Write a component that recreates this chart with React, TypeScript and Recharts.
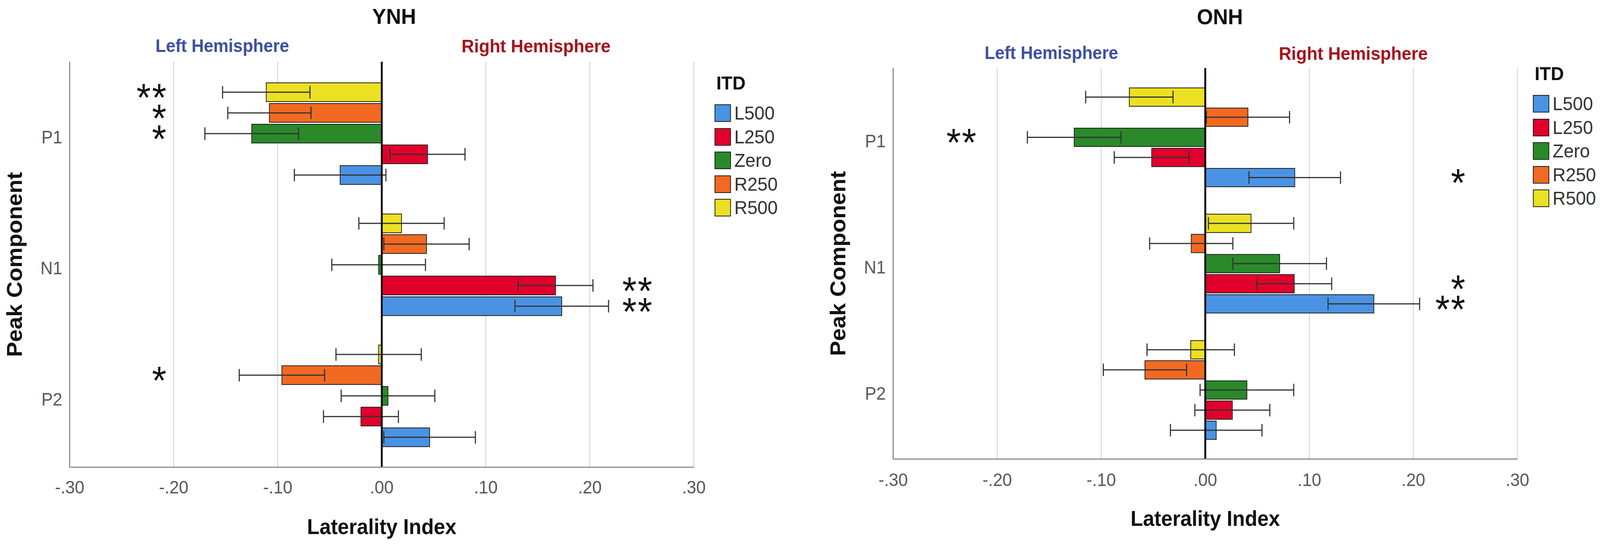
import { BarChart, Bar, XAxis, YAxis, CartesianGrid, ReferenceLine, ErrorBar, LabelList } from 'recharts';

const categories = ['P1', 'N1', 'P2'];
const seriesKeys = ['L500', 'L250', 'Zero', 'R250', 'R500'];
const seriesColors = ['#4A93E4', '#E1002B', '#2A8A2A', '#F26A22', '#EBE022'];
const xTicks = [-0.3, -0.2, -0.1, 0, 0.1, 0.2, 0.3];

// YNH means per ITD, ordered P1, N1, P2
const ynhL500 = [-0.04, 0.173, 0.046];
const ynhL250 = [0.044, 0.167, -0.02];
const ynhZero = [-0.125, -0.003, 0.006];
const ynhR250 = [-0.108, 0.043, -0.096];
const ynhR500 = [-0.111, 0.019, -0.003];
// YNH standard errors
const ynhL500Err = [0.044, 0.045, 0.044];
const ynhL250Err = [0.036, 0.036, 0.036];
const ynhZeroErr = [0.045, 0.045, 0.045];
const ynhR250Err = [0.04, 0.041, 0.041];
const ynhR500Err = [0.042, 0.041, 0.041];
// YNH significance marks
const ynhL500Sig = ['', '**', ''];
const ynhL250Sig = ['', '**', ''];
const ynhZeroSig = ['*', '', ''];
const ynhR250Sig = ['*', '', '*'];
const ynhR500Sig = ['**', '', ''];

// ONH means
const onhL500 = [0.086, 0.162, 0.0105];
const onhL250 = [-0.0515, 0.0855, 0.026];
const onhZero = [-0.126, 0.0715, 0.04];
const onhR250 = [0.041, -0.0135, -0.058];
const onhR500 = [-0.073, 0.044, -0.014];
// ONH standard errors
const onhL500Err = [0.044, 0.044, 0.044];
const onhL250Err = [0.036, 0.036, 0.036];
const onhZeroErr = [0.045, 0.045, 0.045];
const onhR250Err = [0.04, 0.04, 0.04];
const onhR500Err = [0.042, 0.041, 0.042];
// ONH significance marks
const onhL500Sig = ['*', '**', ''];
const onhL250Sig = ['', '*', ''];
const onhZeroSig = ['**', '', ''];
const onhR250Sig = ['', '', ''];
const onhR500Sig = ['', '', ''];

const FONT = '"Liberation Sans", Arial, sans-serif';
const PAGE_W = 4319;
const PAGE_H = 1395;

function buildRows(vals: number[][], errs: number[][], sigs: string[][]) {
  return categories.map((name, i) => {
    const row: any = { name };
    seriesKeys.forEach((k, s) => {
      row[k] = vals[s][i];
      row[k + '_err'] = errs[s][i];
      row[k + '_sig'] = sigs[s][i];
    });
    return row;
  });
}

const ynhRows = buildRows(
  [ynhL500, ynhL250, ynhZero, ynhR250, ynhR500],
  [ynhL500Err, ynhL250Err, ynhZeroErr, ynhR250Err, ynhR500Err],
  [ynhL500Sig, ynhL250Sig, ynhZeroSig, ynhR250Sig, ynhR500Sig]
);
const onhRows = buildRows(
  [onhL500, onhL250, onhZero, onhR250, onhR500],
  [onhL500Err, onhL250Err, onhZeroErr, onhR250Err, onhR500Err],
  [onhL500Sig, onhL250Sig, onhZeroSig, onhR250Sig, onhR500Sig]
);

const fmt = (v: number) => {
  const s = Math.abs(v).toFixed(2).replace(/^0/, '');
  return v < -1e-9 ? '-' + s : s;
};

// stars sit in a fixed column left or right of zero, given in axis units
const starContent = (rows: any[], key: string, leftAt: number, rightAt: number) => (p: any) => {
  const value = p.value;
  if (!value) return null;
  const v = rows[p.index][key];
  const vb = p.viewBox ?? p;
  const x0 = Number(typeof p.x === 'number' ? p.x : vb.x);
  const w = Number(typeof p.width === 'number' ? p.width : vb.width);
  const y0 = Number(typeof p.y === 'number' ? p.y : vb.y);
  const h = Number(typeof p.height === 'number' ? p.height : vb.height);
  const zero = v < 0 ? Math.max(x0, x0 + w) : Math.min(x0, x0 + w);
  const k = Math.abs(w) / Math.abs(v);
  const sx = zero + (v < 0 ? leftAt : rightAt) * k;
  const cy = y0 + Math.abs(h) / 2;
  return (
    <text x={sx} y={cy + 48} textAnchor="end" fontFamily={FONT} fontSize={100} letterSpacing={3} fill="#111">
      {value}
    </text>
  );
};

const CatTick = (p: any) => (
  <text x={p.x} y={p.y} dy={25} textAnchor="end" fill="#595959" fontFamily={FONT} fontSize={46}>
    {p.payload.value}
  </text>
);

type PanelProps = {
  rows: any[];
  left: number;
  width: number;
  top: number;
  right: number;
  bottom: number;
  barSize: number;
  barGap: number;
  tickMargin: number;
  starLeft: number;
  starRight: number;
};

function Panel(props: PanelProps) {
  const { rows, left, width, top, right, bottom, barSize, barGap, tickMargin, starLeft, starRight } = props;
  const drawOrder = [...seriesKeys].reverse();
  return (
    <div style={{ position: 'absolute', left, top: 0 }}>
      <BarChart
        width={width}
        height={PAGE_H}
        data={rows}
        layout="vertical"
        margin={{ top, right, left: 0, bottom }}
        barSize={barSize}
        barGap={barGap}
      >
        <CartesianGrid horizontal={false} stroke="#cccccc" strokeWidth={2} />
        <XAxis
          type="number"
          domain={[-0.3, 0.3]}
          ticks={xTicks}
          tickFormatter={fmt}
          height={150}
          tickLine={false}
          tickSize={0}
          tickMargin={tickMargin}
          axisLine={{ stroke: '#8a8a8a', strokeWidth: 3 }}
          tick={{ fill: '#595959', fontSize: 46, fontFamily: FONT }}
          label={{
            content: ({ viewBox }: any) => (
              <text
                x={viewBox.x + viewBox.width / 2}
                y={viewBox.y + 171}
                textAnchor="middle"
                fontFamily={FONT}
                fontWeight="bold"
                fontSize={55}
                fill="#111"
              >
                Laterality Index
              </text>
            ),
          }}
        />
        <YAxis
          type="category"
          dataKey="name"
          width={188}
          padding={{ top: 16, bottom: 15 }}
          tickLine={false}
          tickSize={0}
          tickMargin={20}
          axisLine={{ stroke: '#8a8a8a', strokeWidth: 3 }}
          tick={<CatTick />}
          label={{
            content: ({ viewBox }: any) => {
              const cx = viewBox.x + 59;
              const cy = viewBox.y + viewBox.height / 2;
              return (
                <text
                  x={cx}
                  y={cy}
                  transform={`rotate(-90, ${cx}, ${cy})`}
                  textAnchor="middle"
                  fontFamily={FONT}
                  fontWeight="bold"
                  fontSize={58}
                  fill="#111"
                >
                  Peak Component
                </text>
              );
            },
          }}
        />
        {drawOrder.map((k) => (
          <Bar
            key={k}
            dataKey={k}
            fill={seriesColors[seriesKeys.indexOf(k)]}
            stroke="#1e1e1e"
            strokeWidth={2}
            isAnimationActive={false}
          >
            <ErrorBar dataKey={k + '_err'} direction="x" width={16} stroke="#333" strokeWidth={3} />
            <LabelList dataKey={k + '_sig'} content={starContent(rows, k, starLeft, starRight)} />
          </Bar>
        ))}
        <ReferenceLine x={0} stroke="#000" strokeWidth={5} />
      </BarChart>
    </div>
  );
}

function Legend({ left, top }: { left: number; top: number }) {
  return (
    <div style={{ position: 'absolute', left, top, fontFamily: FONT }}>
      <div
        style={{
          position: 'absolute',
          left: 44,
          top: -55,
          transform: 'translate(-50%, -50%)',
          fontWeight: 'bold',
          fontSize: 49,
          lineHeight: 1,
          color: '#111',
        }}
      >
        ITD
      </div>
      {seriesKeys.map((k, i) => (
        <div key={k} style={{ position: 'absolute', left: 0, top: i * 60.5, display: 'flex', alignItems: 'center', height: 45 }}>
          <div
            style={{
              width: 40,
              height: 41,
              background: seriesColors[i],
              border: '2px solid #1e1e1e',
            }}
          />
          <span style={{ marginLeft: 9, fontSize: 49, lineHeight: 1, color: '#333' }}>{k}</span>
        </div>
      ))}
    </div>
  );
}

function Caption({ x, y, text, size, color }: { x: number; y: number; text: string; size: number; color: string }) {
  return (
    <div
      style={{
        position: 'absolute',
        left: x,
        top: y,
        transform: 'translate(-50%, -50%)',
        fontFamily: FONT,
        fontWeight: 'bold',
        fontSize: size,
        lineHeight: 1,
        color,
        whiteSpace: 'nowrap',
      }}
    >
      {text}
    </div>
  );
}

export default function App() {
  // the window may be narrower than the figure; squeeze it horizontally to fit
  const sx = Math.min(1, window.innerWidth / PAGE_W);
  return (
    <div style={{ position: 'absolute', left: 0, top: 0, width: window.innerWidth, height: PAGE_H, overflow: 'hidden', background: '#fff' }}>
      <div
        style={{
          position: 'absolute',
          left: 0,
          top: 0,
          width: PAGE_W,
          height: PAGE_H,
          background: '#fff',
          transform: `scale(${sx}, 1)`,
          transformOrigin: '0 0',
        }}
      >
        <Panel
          rows={ynhRows}
          left={0}
          width={2150}
          top={158}
          right={277}
          bottom={49}
          barSize={48}
          barGap={5}
          tickMargin={34}
          starLeft={-0.206}
          starRight={0.261}
        />
        <Panel
          rows={onhRows}
          left={2223}
          width={2096}
          top={174}
          right={223}
          bottom={70}
          barSize={47}
          barGap={4.5}
          tickMargin={36}
          starLeft={-0.219}
          starRight={0.251}
        />
        <Caption x={1064} y={42} text="YNH" size={56} color="#111" />
        <Caption x={600} y={117} text="Left Hemisphere" size={46} color="#3D50A2" />
        <Caption x={1447} y={117} text="Right Hemisphere" size={47} color="#A5121D" />
        <Caption x={3293} y={43} text="ONH" size={56} color="#111" />
        <Caption x={2838} y={135} text="Left Hemisphere" size={46} color="#3D50A2" />
        <Caption x={3653} y={136} text="Right Hemisphere" size={47} color="#A5121D" />
        <Legend left={1929} top={267} />
        <Legend left={4138} top={243} />
      </div>
    </div>
  );
}
